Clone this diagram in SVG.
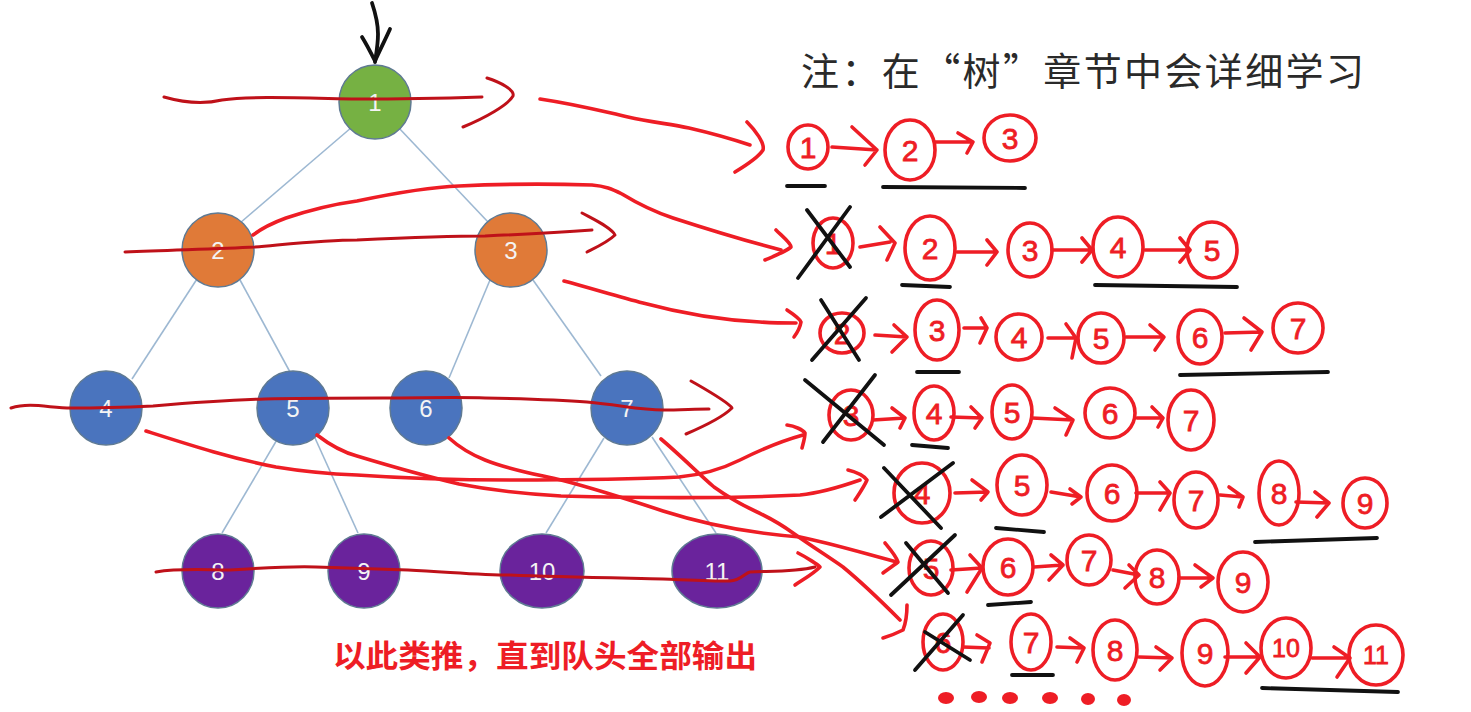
<svg xmlns="http://www.w3.org/2000/svg" width="1471" height="712" viewBox="0 0 1471 712">
<style>
.bg{fill:#ffffff}
.edge{stroke:#9db8d2;stroke-width:1.6;fill:none}
.node{stroke:#5f7a93;stroke-width:1.5}
.g{fill:#76b143}.o{fill:#e07a38}.b{fill:#4a74be}.p{fill:#6a239c}
.nt{font-family:"Liberation Sans",Arial,sans-serif;font-size:24px;fill:#f4f4f4;text-anchor:middle}
.r{fill:none;stroke:#ee1d25;stroke-width:3.6;stroke-linecap:round;stroke-linejoin:round}
.dr{fill:none;stroke:#bf1119;stroke-width:3;stroke-linecap:round;stroke-linejoin:round}
.k{fill:none;stroke:#111111;stroke-width:3.8;stroke-linecap:round;stroke-linejoin:round}
.q{font-family:"Liberation Sans",Arial,sans-serif;font-size:30px;fill:#ee1d25;stroke:#ee1d25;stroke-width:0.8;text-anchor:middle}
.q2{font-family:"Liberation Sans",Arial,sans-serif;font-size:25px;fill:#ee1d25;stroke:#ee1d25;stroke-width:0.8;text-anchor:middle}
.dot{fill:#ee1d25}
.title{font-family:"Noto Sans CJK SC","Liberation Sans",sans-serif;font-size:38px;fill:#2a2a2a}
.note{font-family:"Noto Sans CJK SC","Liberation Sans",sans-serif;font-size:31px;fill:#ee1d25;font-weight:bold}
</style>
<rect class="bg" x="0" y="0" width="1471" height="712"/>

<g id="tree-edges">
<line class="edge" x1="352" y1="127" x2="240" y2="223"/>
<line class="edge" x1="398" y1="127" x2="488" y2="222"/>
<line class="edge" x1="197" y1="279" x2="132" y2="379"/>
<line class="edge" x1="240" y1="280" x2="290" y2="372"/>
<line class="edge" x1="490" y1="280" x2="449" y2="378"/>
<line class="edge" x1="533" y1="280" x2="601" y2="376"/>
<line class="edge" x1="278" y1="438" x2="222" y2="533"/>
<line class="edge" x1="315" y1="438" x2="358" y2="533"/>
<line class="edge" x1="604" y1="438" x2="546" y2="533"/>
<line class="edge" x1="652" y1="437" x2="716" y2="533"/>
</g>

<g id="node-1"><ellipse class="node g" cx="375" cy="102" rx="36" ry="37"/><text class="nt" x="375" y="111">1</text></g>
<g id="node-2"><ellipse class="node o" cx="218" cy="250" rx="36" ry="37"/><text class="nt" x="218" y="259">2</text></g>
<g id="node-3"><ellipse class="node o" cx="511" cy="250" rx="36" ry="37"/><text class="nt" x="511" y="259">3</text></g>
<g id="node-4"><ellipse class="node b" cx="106" cy="408" rx="36" ry="37"/><text class="nt" x="106" y="417">4</text></g>
<g id="node-5"><ellipse class="node b" cx="293" cy="408" rx="36" ry="37"/><text class="nt" x="293" y="417">5</text></g>
<g id="node-6"><ellipse class="node b" cx="426" cy="408" rx="36" ry="37"/><text class="nt" x="426" y="417">6</text></g>
<g id="node-7"><ellipse class="node b" cx="627" cy="408" rx="36" ry="37"/><text class="nt" x="627" y="417">7</text></g>
<g id="node-8"><ellipse class="node p" cx="218" cy="571" rx="36" ry="37"/><text class="nt" x="218" y="580">8</text></g>
<g id="node-9"><ellipse class="node p" cx="364" cy="571" rx="36" ry="37"/><text class="nt" x="364" y="580">9</text></g>
<g id="node-10"><ellipse class="node p" cx="542" cy="571" rx="42" ry="37"/><text class="nt" x="542" y="580">10</text></g>
<g id="node-11"><ellipse class="node p" cx="717" cy="571" rx="45" ry="37"/><text class="nt" x="717" y="580">11</text></g>

<g id="title"><text class="title" x="801" y="85" textLength="563" lengthAdjust="spacing">注：在“树”章节中会详细学习</text></g>
<g id="note"><text class="note" x="333" y="667" textLength="424" lengthAdjust="spacingAndGlyphs">以此类推，直到队头全部输出</text></g>

<g id="connectors">
<path class="k" d="M372,3 C376,15 378,25 378,34 C378,45 376,55 375,62"/>
<path class="k" d="M362,37 C367,45 372,55 375,61 C380,50 386,38 390,29"/>

<path class="dr" d="M164,97 C185,103 205,104 222,100 C250,96 300,98 357,99 C400,99 450,98 482,97"/>
<path class="dr" d="M487,78 C500,82 515,90 513,96 C508,105 485,118 463,127"/>
<path class="dr" d="M125,252 C170,250 215,249 255,247 C290,244 325,240 357,240 C400,238 450,236 485,236 C530,234 565,232 592,230"/>
<path class="dr" d="M582,213 C595,220 612,228 615,235 C608,242 595,248 587,252"/>
<path class="dr" d="M11,408 C30,402 50,408 71,408 C100,408 130,407 153,406 C200,402 230,400 265,399 C300,398 350,398 383,398 C420,398 460,397 485,398 C530,399 560,400 587,402 C620,405 640,410 663,410 C680,410 695,409 709,409"/>
<path class="dr" d="M691,381 C710,392 728,402 732,408 C722,418 700,428 686,434"/>
<path class="dr" d="M156,572 C180,568 205,570 230,570 C260,568 290,566 316,567 C350,568 380,569 408,570 C450,572 480,575 510,575 C560,577 620,578 663,579 C690,580 710,581 730,581 C740,581 745,573 750,572 C770,571 795,572 815,567"/>
<path class="r" d="M798,553 C808,558 818,565 820,567 C812,575 802,580 795,585"/>

<path class="r" d="M540,99 C580,105 605,112 628,117 C650,122 670,124 689,128 C715,134 735,140 750,145"/>
<path class="r" d="M747,122 C755,130 765,143 763,150 C758,158 745,166 735,172"/>
<path class="r" d="M253,235 C265,226 275,222 286,218 C310,210 335,204 357,201 C400,192 430,187 459,186 C500,184 560,184 592,185 C605,186 612,189 622,194 C640,205 655,212 673,218 C710,230 750,242 781,250"/>
<path class="r" d="M776,230 C782,236 791,243 791,247 C785,252 772,257 765,260"/>
<path class="r" d="M564,281 C590,288 620,297 643,303 C680,313 720,320 760,322 C775,323 788,323 796,323"/>
<path class="r" d="M787,310 C793,314 800,319 801,322 C800,328 797,333 794,337"/>
<path class="r" d="M146,431 C190,445 230,458 276,467 C300,471 330,474 357,475 C400,478 460,480 510,480 C570,480 640,479 679,477 C700,475 720,470 740,460 C760,450 785,440 803,435"/>
<path class="r" d="M787,425 C795,426 803,430 805,433 C805,438 803,444 802,448"/>
<path class="r" d="M317,435 C330,445 342,452 357,456 C390,466 425,476 459,484 C490,490 525,494 561,496 C640,498 720,499 800,495 C820,493 840,487 860,480"/>
<path class="r" d="M848,470 C856,472 864,476 867,480 C864,487 859,494 855,500"/>
<path class="r" d="M449,438 C460,448 470,454 485,460 C510,470 535,474 561,480 C600,490 630,500 663,511 C710,526 760,534 800,537 C830,543 870,555 897,562"/>
<path class="r" d="M885,543 C890,549 896,556 898,562 C893,566 887,570 883,573"/>
<path class="r" d="M661,439 C680,455 700,475 714,487 C728,497 742,505 755,511 C770,518 782,525 793,533 C810,545 830,558 843,567 C865,585 885,605 900,620"/>
<path class="r" d="M907,605 C907,615 905,625 903,630 C895,634 890,636 883,638"/>
</g>

<g id="queue-row-1">
<ellipse class="r" cx="808" cy="147" rx="20" ry="22"/><text class="q" x="808" y="158">1</text>
<path class="r" d="M832,147 L877,150 M852,127 L877,150 L865,165"/>
<ellipse class="r" cx="910" cy="150" rx="25" ry="30"/><text class="q" x="910" y="161">2</text>
<path class="r" d="M935,142 L973,142 M958,133 L973,142 L967,153"/>
<ellipse class="r" cx="1010" cy="138" rx="26" ry="23"/><text class="q" x="1010" y="149">3</text>
<path class="k" d="M787,186 L825,186 M883,187 L1025,188"/>
</g>

<g id="queue-row-2">
<ellipse class="r" cx="833" cy="243" rx="20" ry="25"/><text class="q" x="833" y="254">1</text>
<path class="k" d="M798,278 L850,207 M807,210 L850,267"/>
<path class="r" d="M860,247 L890,242 M880,227 L895,243 L887,260"/>
<ellipse class="r" cx="930" cy="248" rx="25" ry="32"/><text class="q" x="930" y="259">2</text>
<path class="r" d="M957,252 L997,252 M987,240 L997,252 L987,265"/>
<ellipse class="r" cx="1030" cy="250" rx="22" ry="27"/><text class="q" x="1030" y="261">3</text>
<path class="r" d="M1052,250 L1092,250 M1082,238 L1092,250 L1082,262"/>
<ellipse class="r" cx="1118" cy="247" rx="25" ry="30"/><text class="q" x="1118" y="258">4</text>
<path class="r" d="M1145,250 L1190,250 M1180,238 L1190,250 L1180,262"/>
<ellipse class="r" cx="1212" cy="250" rx="25" ry="28"/><text class="q" x="1212" y="261">5</text>
<path class="k" d="M902,285 L950,287 M1095,285 L1237,287"/>
</g>

<g id="queue-row-3">
<ellipse class="r" cx="842" cy="333" rx="22" ry="20"/><text class="q" x="842" y="344">2</text>
<path class="k" d="M812,360 L866,298 M821,300 L859,360"/>
<path class="r" d="M875,335 L907,337 M894,325 L907,337 L892,352"/>
<ellipse class="r" cx="937" cy="330" rx="22" ry="30"/><text class="q" x="937" y="341">3</text>
<path class="r" d="M964,328 L987,328 M981,318 L987,328 L980,343"/>
<ellipse class="r" cx="1019" cy="337" rx="23" ry="23"/><text class="q" x="1019" y="348">4</text>
<path class="r" d="M1048,338 L1076,338 M1066,324 L1076,338 L1072,358"/>
<ellipse class="r" cx="1101" cy="338" rx="23" ry="25"/><text class="q" x="1101" y="349">5</text>
<path class="r" d="M1126,337 L1162,337 M1150,325 L1164,337 L1155,350"/>
<ellipse class="r" cx="1200" cy="337" rx="22" ry="27"/><text class="q" x="1200" y="348">6</text>
<path class="r" d="M1225,333 L1262,332 M1244,318 L1262,332 L1251,350"/>
<ellipse class="r" cx="1298" cy="328" rx="25" ry="25"/><text class="q" x="1298" y="339">7</text>
<path class="k" d="M917,372 L959,372 M1180,375 L1328,372"/>
</g>

<g id="queue-row-4">
<ellipse class="r" cx="851" cy="415" rx="22" ry="25"/><text class="q" x="851" y="426">3</text>
<path class="k" d="M805,380 L884,445 M875,375 L823,442"/>
<path class="r" d="M873,420 L905,418 M892,408 L905,418 L900,428"/>
<ellipse class="r" cx="934" cy="413" rx="20" ry="27"/><text class="q" x="934" y="424">4</text>
<path class="r" d="M951,417 L982,418 M971,407 L982,418 L975,428"/>
<ellipse class="r" cx="1012" cy="412" rx="20" ry="27"/><text class="q" x="1012" y="423">5</text>
<path class="r" d="M1032,418 L1073,420 M1055,408 L1073,420 L1066,435"/>
<ellipse class="r" cx="1110" cy="413" rx="25" ry="25"/><text class="q" x="1110" y="424">6</text>
<path class="r" d="M1137,418 L1162,418 M1152,407 L1163,418 L1158,427"/>
<ellipse class="r" cx="1191" cy="420" rx="23" ry="30"/><text class="q" x="1191" y="431">7</text>
<path class="k" d="M912,445 L948,448"/>
</g>

<g id="queue-row-5">
<ellipse class="r" cx="922" cy="493" rx="28" ry="30"/><text class="q" x="922" y="504">4</text>
<path class="k" d="M881,517 L953,463 M884,468 L941,528"/>
<path class="r" d="M955,493 L988,492 M972,480 L988,492 L981,500"/>
<ellipse class="r" cx="1022" cy="485" rx="25" ry="30"/><text class="q" x="1022" y="496">5</text>
<path class="r" d="M1051,492 L1081,497 M1070,489 L1081,497 L1072,504"/>
<ellipse class="r" cx="1112" cy="493" rx="25" ry="28"/><text class="q" x="1112" y="504">6</text>
<path class="r" d="M1136,493 L1170,493 M1160,482 L1170,493 L1160,510"/>
<ellipse class="r" cx="1196" cy="500" rx="22" ry="28"/><text class="q" x="1196" y="511">7</text>
<path class="r" d="M1220,495 L1243,497 M1229,487 L1243,497 L1239,507"/>
<ellipse class="r" cx="1279" cy="493" rx="20" ry="32"/><text class="q" x="1279" y="504">8</text>
<path class="r" d="M1296,502 L1329,503 M1315,492 L1329,503 L1317,517"/>
<ellipse class="r" cx="1365" cy="503" rx="22" ry="25"/><text class="q" x="1365" y="514">9</text>
<path class="k" d="M996,528 L1044,532 M1255,542 L1377,538"/>
</g>

<g id="queue-row-6">
<ellipse class="r" cx="931" cy="568" rx="22" ry="27"/><text class="q" x="931" y="579">5</text>
<path class="k" d="M891,595 L955,535 M906,543 L948,593"/>
<path class="r" d="M951,570 L982,568 M970,555 L982,568 L967,592"/>
<ellipse class="r" cx="1008" cy="567" rx="25" ry="28"/><text class="q" x="1008" y="578">6</text>
<path class="r" d="M1034,567 L1063,565 M1051,555 L1063,565 L1049,580"/>
<ellipse class="r" cx="1089" cy="560" rx="22" ry="25"/><text class="q" x="1089" y="571">7</text>
<path class="r" d="M1113,570 L1139,575 M1129,565 L1139,575 L1125,588"/>
<ellipse class="r" cx="1157" cy="577" rx="22" ry="27"/><text class="q" x="1157" y="588">8</text>
<path class="r" d="M1179,578 L1213,578 M1195,565 L1213,578 L1201,587"/>
<ellipse class="r" cx="1243" cy="582" rx="25" ry="30"/><text class="q" x="1243" y="593">9</text>
<path class="k" d="M988,605 L1031,602"/>
</g>

<g id="queue-row-7">
<ellipse class="r" cx="943" cy="642" rx="20" ry="28"/><text class="q" x="943" y="653">6</text>
<path class="k" d="M915,670 L963,615 M925,632 L970,660"/>
<path class="r" d="M963,647 L989,648 M977,635 L990,643 L982,662"/>
<ellipse class="r" cx="1031" cy="642" rx="20" ry="28"/><text class="q" x="1031" y="653">7</text>
<path class="r" d="M1057,647 L1084,648 M1070,638 L1084,648 L1077,662"/>
<ellipse class="r" cx="1115" cy="650" rx="22" ry="30"/><text class="q" x="1115" y="661">8</text>
<path class="r" d="M1139,657 L1172,658 M1156,647 L1172,658 L1160,670"/>
<ellipse class="r" cx="1205" cy="653" rx="23" ry="33"/><text class="q" x="1205" y="664">9</text>
<path class="r" d="M1225,657 L1258,657 M1246,643 L1260,657 L1246,673"/>
<ellipse class="r" cx="1286" cy="648" rx="25" ry="30"/><text class="q2" x="1286" y="657">10</text>
<path class="r" d="M1312,658 L1350,658 M1334,647 L1350,658 L1337,677"/>
<ellipse class="r" cx="1376" cy="655" rx="27" ry="30"/><text class="q2" x="1376" y="664">11</text>
<path class="k" d="M1012,675 L1053,675 M1262,688 L1398,692"/>
</g>

<g id="dots">
<ellipse class="dot" cx="946" cy="698" rx="8" ry="6"/>
<ellipse class="dot" cx="979" cy="697" rx="8" ry="6"/>
<ellipse class="dot" cx="1010" cy="698" rx="8" ry="6"/>
<ellipse class="dot" cx="1050" cy="698" rx="8" ry="6"/>
<ellipse class="dot" cx="1088" cy="699" rx="7" ry="6"/>
<ellipse class="dot" cx="1124" cy="700" rx="7" ry="6"/>
</g>
</svg>
